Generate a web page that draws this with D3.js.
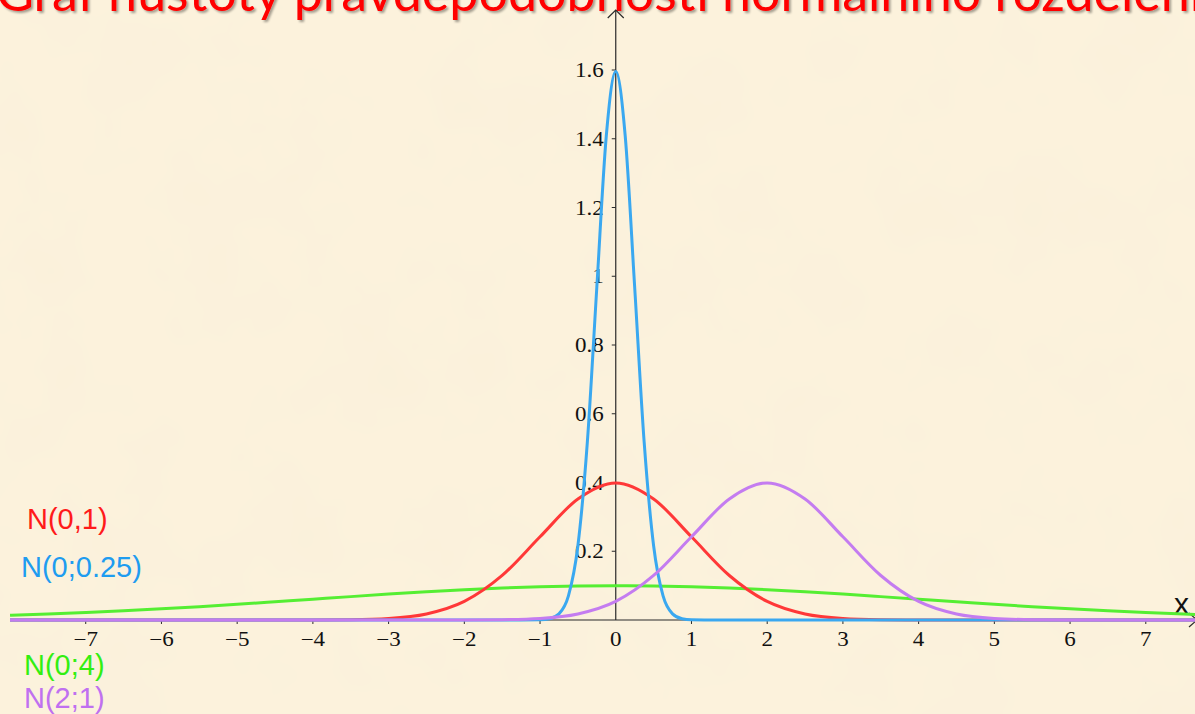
<!DOCTYPE html>
<html><head><meta charset="utf-8">
<script src="https://cdn.jsdelivr.net/npm/d3@7"></script>
<style>html,body{margin:0;padding:0;overflow:hidden;background:#f8edd4}</style>
</head><body>
<svg id="c" width="1195" height="714"></svg>
<script>
// ---- data ----
const title = "Graf hustoty pravděpodobnosti normálního rozdělení";
const xTicks = [-7,-6,-5,-4,-3,-2,-1,0,1,2,3,4,5,6,7];
const xTickLabels = ["−7","−6","−5","−4","−3","−2","−1","0","1","2","3","4","5","6","7"];
const yTicks = [0.2,0.4,0.6,0.8,1,1.2,1.4,1.6];
const yTickLabels = ["0.2","0.4","0.6","0.8","1","1.2","1.4","1.6"];
const xGrid = [-8,-7.5,-7,-6.5,-6,-5.5,-5,-4.5,-4,-3.5,-3,-2.5,-2,-1.5,-1,-0.5,0,0.5,1,1.5,2,2.5,3,3.5,4,4.5,5,5.5,6,6.5,7,7.5,8];
const seriesN01 = [0,0,0,0,0,0,0,0,0.0001,0.0009,0.0044,0.0175,0.054,0.1295,0.242,0.3521,0.3989,0.3521,0.242,0.1295,0.054,0.0175,0.0044,0.0009,0.0001,0,0,0,0,0,0,0,0];
const seriesN21 = [0,0,0,0,0,0,0,0,0,0,0,0,0.0001,0.0009,0.0044,0.0175,0.054,0.1295,0.242,0.3521,0.3989,0.3521,0.242,0.1295,0.054,0.0175,0.0044,0.0009,0.0001,0,0,0,0];
const seriesN04 = [0.0135,0.0172,0.0216,0.0266,0.0324,0.0387,0.0456,0.053,0.0605,0.068,0.0753,0.082,0.088,0.0929,0.0966,0.0989,0.0997,0.0989,0.0966,0.0929,0.088,0.082,0.0753,0.068,0.0605,0.053,0.0456,0.0387,0.0324,0.0266,0.0216,0.0172,0.0135];
const xGridNarrow = [-8,-1.25,-1,-0.875,-0.75,-0.625,-0.5,-0.375,-0.25,-0.125,0,0.125,0.25,0.375,0.5,0.625,0.75,0.875,1,1.25,8];
const seriesN0025 = [0,0,0.0005,0.0035,0.0177,0.07,0.216,0.518,0.968,1.408,1.596,1.408,0.968,0.518,0.216,0.07,0.0177,0.0035,0.0005,0,0];
const legendLabels = ["N(0,1)","N(0;0.25)","N(0;4)","N(2;1)"];

// ---- drawing ----
const svg = d3.select("#c");
const W = 1195, H = 714;
const x = d3.scaleLinear().domain([-8, 7.65]).range([10, 1195]);
const y = d3.scaleLinear().domain([0, 1.6]).range([620, 70]);

const defs = svg.append("defs");
const f = defs.append("filter").attr("id","paper").attr("x",0).attr("y",0).attr("width","100%").attr("height","100%");
f.append("feTurbulence").attr("type","fractalNoise").attr("baseFrequency","0.012").attr("numOctaves",3).attr("seed",7).attr("result","n");
f.append("feColorMatrix").attr("in","n").attr("type","matrix")
 .attr("values","0 0 0 0 0.93  0 0 0 0 0.86  0 0 0 0 0.70  0 0 0 0.6 -0.2");
defs.append("clipPath").attr("id","plot").append("rect").attr("x",10).attr("y",0).attr("width",W-10).attr("height",H);
const sh = defs.append("filter").attr("id","shadow").attr("x","-5%").attr("y","-20%").attr("width","110%").attr("height","160%");
sh.append("feDropShadow").attr("dx",2).attr("dy",2).attr("stdDeviation",1.2).attr("flood-color","#000").attr("flood-opacity",0.35);

svg.append("rect").attr("width",W).attr("height",H).attr("fill","#fcf2dc");
svg.append("rect").attr("width",W).attr("height",H).attr("filter","url(#paper)");

// title (cut by the top edge, as in the reference)
svg.append("text").attr("x",-4).attr("y",11).attr("fill","#ff0000")
  .attr("font-family","Lato, 'Open Sans', sans-serif").attr("font-size",52)
  .attr("filter","url(#shadow)").text(title);

// axes
const axisColor = "#2a2a2a";
svg.append("line").attr("x1",10).attr("x2",1197).attr("y1",y(0)).attr("y2",y(0)).attr("stroke",axisColor).attr("stroke-width",1.2);
svg.append("path").attr("d",`M1189,${y(0)-7}L1197,${y(0)}L1189,${y(0)+7}`).attr("fill","none").attr("stroke",axisColor).attr("stroke-width",1.2);
svg.append("line").attr("x1",x(0)).attr("x2",x(0)).attr("y1",y(0)).attr("y2",10).attr("stroke",axisColor).attr("stroke-width",1.2);
svg.append("path").attr("d",`M${x(0)-8},18L${x(0)},10L${x(0)+8},18`).attr("fill","none").attr("stroke",axisColor).attr("stroke-width",1.2);

svg.append("g").selectAll("line").data(xTicks.filter(d=>d!==0)).join("line")
  .attr("x1",d=>x(d)).attr("x2",d=>x(d)).attr("y1",y(0)).attr("y2",y(0)+4).attr("stroke",axisColor);
svg.append("g").selectAll("line").data(yTicks).join("line")
  .attr("x1",x(0)-4).attr("x2",x(0)).attr("y1",d=>y(d)).attr("y2",d=>y(d)).attr("stroke",axisColor);

const tickFont = "'Liberation Serif','Times New Roman',serif";
svg.append("g").selectAll("text").data(xTicks).join("text")
  .attr("transform",(d,i)=>`translate(${x(d)},${y(0)+26}) scale(1.15,1)`)
  .attr("text-anchor","middle").attr("font-family",tickFont).attr("font-size",20).attr("fill","#111")
  .text((d,i)=>xTickLabels[i]);
svg.append("g").selectAll("text").data(yTicks).join("text")
  .attr("transform",(d,i)=>`translate(${x(0)-12},${y(d)+7}) scale(1.15,1)`)
  .attr("text-anchor","end").attr("font-family",tickFont).attr("font-size",20).attr("fill","#111")
  .text((d,i)=>yTickLabels[i]);

svg.append("text").attr("x",1174).attr("y",614).attr("font-family","Liberation Sans, Arial, sans-serif")
  .attr("font-size",30).attr("fill","#111").text("x");

// curves
const line = d3.line().x(d=>x(d[0])).y(d=>y(d[1])).curve(d3.curveMonotoneX);
const g = svg.append("g").attr("clip-path","url(#plot)").attr("fill","none").attr("stroke-width",3).attr("stroke-linejoin","round");
g.append("path").attr("d", line(d3.zip(xGrid, seriesN04))).attr("stroke","#55ee33");
g.append("path").attr("d", line(d3.zip(xGrid, seriesN01))).attr("stroke","#ff3838");
g.append("path").attr("d", line(d3.zip(xGridNarrow, seriesN0025))).attr("stroke","#3aa8f0");
g.append("path").attr("d", line(d3.zip(xGrid, seriesN21))).attr("stroke","#c47cf0");

// legend labels
const legendColors = ["#ff1a1a","#1e9cf0","#33ee11","#c070f0"];
const legendPos = [[27,529],[21,577],[24,675],[24,708]];
svg.append("g").selectAll("text").data(legendLabels).join("text")
  .attr("x",(d,i)=>legendPos[i][0]).attr("y",(d,i)=>legendPos[i][1])
  .attr("font-family","Liberation Sans, Arial, sans-serif").attr("font-size",29)
  .attr("fill",(d,i)=>legendColors[i]).text(d=>d);
</script>
</body></html>
